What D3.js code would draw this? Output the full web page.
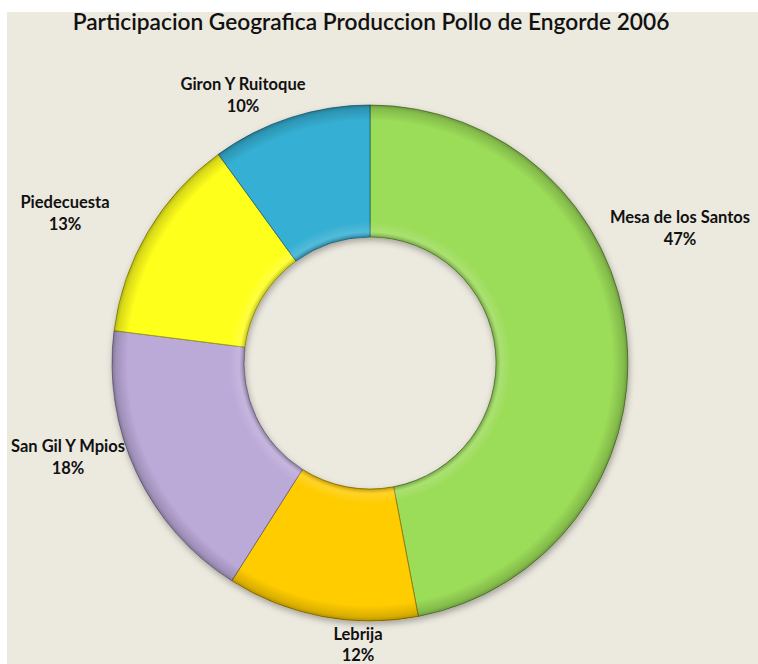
<!DOCTYPE html>
<html>
<head>
<meta charset="utf-8">
<script src="https://cdn.jsdelivr.net/npm/d3@7"></script>
<style>
  html, body { margin: 0; padding: 0; background: #ffffff; }
  svg { display: block; }
</style>
</head>
<body>
<svg id="chart" width="758" height="664"></svg>
<script>
const categories = ["Mesa de los Santos", "Lebrija", "San Gil Y Mpios", "Piedecuesta", "Giron Y Ruitoque"];
const values = [47, 12, 18, 13, 10];
const percentLabels = ["47%", "12%", "18%", "13%", "10%"];
const colors = ["#9BDC58", "#FFCC00", "#BBA9D8", "#FFFF1A", "#35AFD3"];
const labelPositions = [[680, 223], [358, 640], [68, 452], [65, 208], [243, 90]];
const title = "Participacion Geografica Produccion Pollo de Engorde 2006";

const W = 758, H = 664;
const cx = 370, cy = 363, rOuter = 258, rInner = 126;
const svg = d3.select("#chart");

svg.append("rect").attr("x", 7).attr("y", 12).attr("width", W - 7).attr("height", H - 12)
  .attr("fill", "#ECE9DF");

const defs = svg.append("defs");
const sh = defs.append("filter").attr("id", "shadow").attr("x", "-20%").attr("y", "-20%")
  .attr("width", "140%").attr("height", "140%");
sh.append("feDropShadow").attr("dx", 1).attr("dy", 3).attr("stdDeviation", 3)
  .attr("flood-color", "#000").attr("flood-opacity", 0.3);

// bevel shading gradient (radial, centred on the donut's own origin)
const bevel = defs.append("radialGradient").attr("id", "bevel")
  .attr("gradientUnits", "userSpaceOnUse").attr("cx", 0).attr("cy", 0).attr("r", rOuter);
const f0 = rInner / rOuter;
[[f0, "#000", 0.25], [f0 + 0.02, "#fff", 0.15], [f0 + 0.06, "#fff", 0.0],
 [0.94, "#000", 0.0], [0.985, "#000", 0.15], [1, "#000", 0.3]].forEach(([o, c, a]) => {
  bevel.append("stop").attr("offset", o).attr("stop-color", c).attr("stop-opacity", a);
});

const pie = d3.pie().sort(null).value(d => d);
const arcs = pie(values);
const arc = d3.arc().innerRadius(rInner).outerRadius(rOuter);

const g = svg.append("g").attr("transform", `translate(${cx},${cy})`);
const gs = g.append("g").attr("filter", "url(#shadow)");
gs.selectAll("path.slice").data(arcs).join("path")
  .attr("class", "slice")
  .attr("d", arc)
  .attr("fill", (d, i) => colors[i])
  .attr("stroke", (d, i) => d3.color(colors[i]).darker(1.6))
  .attr("stroke-width", 0.8);

// bevel overlay
g.append("g").selectAll("path.bev").data(arcs).join("path")
  .attr("class", "bev")
  .attr("d", arc)
  .attr("fill", "url(#bevel)")
  .attr("stroke", "none");

// title
const t = svg.append("text")
  .attr("x", 371).attr("y", 30)
  .attr("text-anchor", "middle")
  .attr("font-family", "Lato, 'Open Sans', sans-serif")
  .attr("font-size", 20)
  .attr("font-weight", 600)
  .attr("fill", "#111")
  .text(title);
const tw = t.node().getComputedTextLength();
if (tw > 0) t.attr("font-size", 20 * 597 / tw);

// labels
const lg = svg.append("g")
  .attr("font-family", "Lato, 'Open Sans', sans-serif")
  .attr("font-weight", 700)
  .attr("font-size", 16.5)
  .attr("fill", "#111")
  .attr("text-anchor", "middle");
categories.forEach((c, i) => {
  const [x, y] = labelPositions[i];
  const tx = lg.append("text").attr("x", x).attr("y", y);
  tx.append("tspan").attr("x", x).attr("dy", 0).text(c);
  tx.append("tspan").attr("x", x).attr("dy", i === 1 ? 21 : 22).text(percentLabels[i]);
});
</script>
</body>
</html>
